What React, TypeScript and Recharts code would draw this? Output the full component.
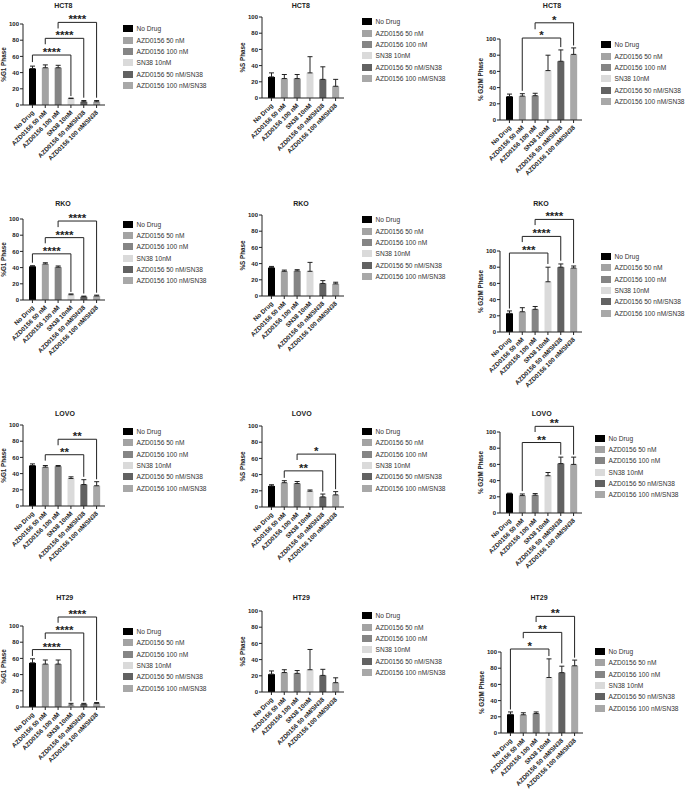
import { Bar, BarChart, Cell, ErrorBar, Label, ReferenceLine, XAxis, YAxis } from "recharts";

// treatment groups (x categories + legend)
const treatments = [
  "No Drug",
  "AZD0156 50 nM",
  "AZD0156 100 nM",
  "SN38 10nM",
  "AZD0156 50 nM/SN38",
  "AZD0156 100 nM/SN38",
];
const barColors = ["#000000", "#a3a3a3", "#858585", "#dadada", "#626262", "#a8a8a8"];
const yTicks = [0, 20, 40, 60, 80, 100];

// mean % of cells per phase, and SD (upper whisker only)
const hct8G1 = [45, 46, 46, 8, 4, 4];
const hct8G1Sd = [3, 3.5, 3, 0.5, 1.5, 1.5];
const hct8S = [26, 24, 24, 31, 23, 14.5];
const hct8SSd = [5, 5, 5, 20, 15.5, 8.5];
const hct8G2M = [29, 29.5, 30, 61, 72.5, 81];
const hct8G2MSd = [3, 3, 3, 19, 14, 8];

const rkoG1 = [41.5, 44.5, 40.5, 6.5, 4, 5];
const rkoG1Sd = [0.8, 1.5, 1.5, 1, 0.8, 1];
const rkoS = [35, 30.5, 31, 30.5, 15.5, 15];
const rkoSSd = [1.5, 1.5, 1.5, 11, 3.5, 2];
const rkoG2M = [23, 25, 28, 62, 80, 79];
const rkoG2MSd = [3, 5, 3.5, 18, 4, 2.5];

const lovoG1 = [50, 48, 49, 34, 26.5, 25];
const lovoG1Sd = [2, 2, 1, 2, 6, 5];
const lovoS = [26, 30, 29, 19.5, 12.5, 15];
const lovoSSd = [1.5, 2.5, 2.5, 1.5, 3.5, 4];
const lovoG2M = [24, 21.5, 22, 46, 61, 60];
const lovoG2MSd = [0.5, 2, 2, 4, 8, 9];

const ht29G1 = [54.5, 53, 53, 2.5, 3.5, 4.5];
const ht29G1Sd = [5, 5, 5, 2, 1, 1];
const ht29S = [22, 24, 23, 27.5, 20.5, 11.5];
const ht29SSd = [4, 3.5, 3.5, 25, 7.5, 6];
const ht29G2M = [23, 22.5, 24, 68.5, 74.5, 83];
const ht29G2MSd = [3, 2.5, 2, 23, 8, 7];

// significance brackets: [from, to, level, left leg end, right leg end, stars]
type Bracket = [number, number, number, number, number, string];

const hct8G1Brackets: Bracket[] = [
  [0, 3, 61.7, 53, 11, "****"],
  [1, 4, 82.3, 75, 9, "****"],
  [2, 5, 102, 94.5, 9, "****"],
];
const hct8G2MBrackets: Bracket[] = [
  [1, 4, 101.2, 36, 90, "*"],
  [2, 5, 120, 112, 92, "*"],
];
const rkoG1Brackets: Bracket[] = [
  [0, 3, 57, 46, 10, "****"],
  [1, 4, 77, 70, 8, "****"],
  [2, 5, 97.5, 90, 9, "****"],
];
const rkoG2MBrackets: Bracket[] = [
  [0, 3, 97.5, 29, 84, "***"],
  [1, 4, 118, 111, 88, "****"],
  [2, 5, 139, 132, 85, "****"],
];
const lovoG1Brackets: Bracket[] = [
  [1, 4, 63.3, 56, 36, "**"],
  [2, 5, 82.4, 75, 33, "**"],
];
const lovoSBrackets: Bracket[] = [
  [1, 4, 44.6, 36, 19, "**"],
  [2, 5, 65.3, 58, 22, "*"],
];
const lovoG2MBrackets: Bracket[] = [
  [1, 4, 87, 27, 72, "**"],
  [2, 5, 107, 100, 72, "**"],
];
const ht29G1Brackets: Bracket[] = [
  [0, 3, 70.9, 63, 7, "****"],
  [1, 4, 91.4, 84, 7, "****"],
  [2, 5, 111.1, 104, 8, "****"],
];
const ht29G2MBrackets: Bracket[] = [
  [0, 3, 103.7, 29, 95, "*"],
  [1, 4, 124.2, 117, 86, "**"],
  [2, 5, 144, 137, 93, "**"],
];

const panels = [
  { title: "HCT8", yLabel: "%G1 Phase", values: hct8G1, sd: hct8G1Sd, brackets: hct8G1Brackets },
  { title: "HCT8", yLabel: "%S Phase", values: hct8S, sd: hct8SSd, brackets: [] as Bracket[] },
  { title: "HCT8", yLabel: "% G2/M Phase", values: hct8G2M, sd: hct8G2MSd, brackets: hct8G2MBrackets },
  { title: "RKO", yLabel: "%G1 Phase", values: rkoG1, sd: rkoG1Sd, brackets: rkoG1Brackets },
  { title: "RKO", yLabel: "%S Phase", values: rkoS, sd: rkoSSd, brackets: [] as Bracket[] },
  { title: "RKO", yLabel: "% G2/M Phase", values: rkoG2M, sd: rkoG2MSd, brackets: rkoG2MBrackets },
  { title: "LOVO", yLabel: "%G1 Phase", values: lovoG1, sd: lovoG1Sd, brackets: lovoG1Brackets },
  { title: "LOVO", yLabel: "%S Phase", values: lovoS, sd: lovoSSd, brackets: lovoSBrackets },
  { title: "LOVO", yLabel: "% G2/M Phase", values: lovoG2M, sd: lovoG2MSd, brackets: lovoG2MBrackets },
  { title: "HT29", yLabel: "%G1 Phase", values: ht29G1, sd: ht29G1Sd, brackets: ht29G1Brackets },
  { title: "HT29", yLabel: "%S Phase", values: ht29S, sd: ht29SSd, brackets: [] as Bracket[] },
  { title: "HT29", yLabel: "% G2/M Phase", values: ht29G2M, sd: ht29G2MSd, brackets: ht29G2MBrackets },
];

// where each panel sits on the page (axis origin x, y of the 100 line, title, legend)
const panelLayouts = [
  { axisX: 22.7, top: 24, titleX: 63.3, titleY: 4.5, legendX: 123, legendY: 29 },
  { axisX: 261.7, top: 16.7, titleX: 300.8, titleY: 4.5, legendX: 362, legendY: 22 },
  { axisX: 500, top: 39.3, titleX: 552, titleY: 4.5, legendX: 601, legendY: 45 },
  { axisX: 22.7, top: 219.3, titleX: 63, titleY: 202.5, legendX: 123, legendY: 224.3 },
  { axisX: 261.7, top: 215, titleX: 301, titleY: 202.5, legendX: 362, legendY: 220 },
  { axisX: 500, top: 250.7, titleX: 541, titleY: 202.5, legendX: 601, legendY: 256.7 },
  { axisX: 22.7, top: 425, titleX: 65, titleY: 412.7, legendX: 123, legendY: 431.7 },
  { axisX: 261.7, top: 426, titleX: 301.7, titleY: 412.7, legendX: 362, legendY: 431.7 },
  { axisX: 500, top: 432.3, titleX: 541.7, titleY: 412.7, legendX: 595, legendY: 438.3 },
  { axisX: 22.7, top: 625.7, titleX: 64.7, titleY: 597.3, legendX: 123, legendY: 631.7 },
  { axisX: 261.7, top: 610.7, titleX: 301.3, titleY: 597.3, legendX: 362, legendY: 616 },
  { axisX: 501, top: 652.3, titleX: 539, titleY: 597.3, legendX: 595, legendY: 651.7 },
];

const FONT = '"Liberation Sans", Arial, sans-serif';
const INK = "#222";
const Y_AXIS_W = 24;
const PLOT_W = 82;
const PLOT_H = 81;
const MARGIN_TOP = 50;
const X_AXIS_H = 70;
const MARGIN_RIGHT = 6;

function AngledTick({ x, y, payload }: any) {
  const tx = x + 2;
  const ty = y + 3;
  return (
    <text
      x={tx}
      y={ty}
      transform={`rotate(-45, ${tx}, ${ty})`}
      textAnchor="end"
      fontSize={6.3}
      fontWeight={700}
      fontFamily={FONT}
      fill={INK}
    >
      {payload.value}
    </text>
  );
}

function renderYLabel(text: string) {
  return ({ viewBox }: any) => {
    const cx = viewBox.x + viewBox.width - 19.4;
    const cy = viewBox.y + viewBox.height / 2;
    return (
      <text
        x={cx}
        y={cy}
        transform={`rotate(-90, ${cx}, ${cy})`}
        textAnchor="middle"
        dominantBaseline="central"
        fontSize={6.3}
        fontWeight={700}
        fontFamily={FONT}
        fill={INK}
      >
        {text}
      </text>
    );
  };
}

function PhasePanel({ index }: { index: number }) {
  const panel = panels[index];
  const layout = panelLayouts[index];
  const rows = treatments.map((name, i) => ({
    name,
    value: panel.values[i],
    err: [0, panel.sd[i]],
  }));

  return (
    <>
      <div
        style={{
          position: "absolute",
          left: layout.titleX,
          top: layout.titleY,
          transform: "translate(-50%, -50%)",
          fontSize: 7,
          fontWeight: 700,
          color: INK,
          whiteSpace: "nowrap",
        }}
      >
        {panel.title}
      </div>
      <div
        style={{
          position: "absolute",
          left: layout.axisX - Y_AXIS_W,
          top: layout.top - MARGIN_TOP,
        }}
      >
        <BarChart
          width={Y_AXIS_W + PLOT_W + MARGIN_RIGHT}
          height={MARGIN_TOP + PLOT_H + X_AXIS_H}
          data={rows}
          margin={{ top: MARGIN_TOP, right: MARGIN_RIGHT, bottom: 0, left: 0 }}
        >
          <XAxis
            dataKey="name"
            interval={0}
            height={X_AXIS_H}
            tickSize={3}
            tickMargin={2}
            padding={{ left: 3, right: 2 }}
            tick={<AngledTick />}
            axisLine={{ stroke: INK }}
            tickLine={{ stroke: INK }}
          />
          <YAxis
            domain={[0, 100]}
            ticks={yTicks}
            interval={0}
            width={Y_AXIS_W}
            tickSize={3}
            tickMargin={1}
            tick={{ fontSize: 6, fontWeight: 700, fill: INK, fontFamily: FONT }}
            axisLine={{ stroke: INK }}
            tickLine={{ stroke: INK }}
          >
            <Label content={renderYLabel(panel.yLabel)} />
          </YAxis>
          <Bar dataKey="value" barSize={7} isAnimationActive={false}>
            {rows.map((row, i) => (
              <Cell key={row.name} fill={barColors[i]} />
            ))}
            <ErrorBar
              dataKey="err"
              direction="y"
              width={2.5}
              stroke={INK}
              strokeWidth={1}
              isAnimationActive={false}
            />
          </Bar>
          {panel.brackets.map(([from, to, level, leftEnd, rightEnd, stars], i) => [
            <ReferenceLine
              key={`h${i}`}
              segment={[
                { x: treatments[from], y: level },
                { x: treatments[to], y: level },
              ]}
              stroke={INK}
              strokeWidth={1}
              ifOverflow="visible"
              label={{
                value: stars,
                position: "top",
                offset: -1,
                fill: INK,
                fontSize: 11.5,
                fontWeight: 700,
                fontFamily: FONT,
              }}
            />,
            <ReferenceLine
              key={`l${i}`}
              segment={[
                { x: treatments[from], y: level },
                { x: treatments[from], y: leftEnd },
              ]}
              stroke={INK}
              strokeWidth={1}
              ifOverflow="visible"
            />,
            <ReferenceLine
              key={`r${i}`}
              segment={[
                { x: treatments[to], y: level },
                { x: treatments[to], y: rightEnd },
              ]}
              stroke={INK}
              strokeWidth={1}
              ifOverflow="visible"
            />,
          ])}
        </BarChart>
      </div>
      <div style={{ position: "absolute", left: layout.legendX, top: layout.legendY - 5.65 }}>
        {treatments.map((name, i) => (
          <div
            key={name}
            style={{ display: "flex", alignItems: "center", height: 11.3, whiteSpace: "nowrap" }}
          >
            <span
              style={{
                display: "inline-block",
                width: 9.5,
                height: 7,
                background: barColors[i],
                marginRight: 4,
              }}
            />
            <span style={{ fontSize: 6.6, color: "#333" }}>{name}</span>
          </div>
        ))}
      </div>
    </>
  );
}

export default function App() {
  return (
    <div
      style={{
        position: "absolute",
        left: 0,
        top: 0,
        width: 685,
        height: 790,
        background: "#fff",
        fontFamily: FONT,
        overflow: "hidden",
      }}
    >
      {panels.map((panel, i) => (
        <PhasePanel key={`${panel.title}-${panel.yLabel}`} index={i} />
      ))}
    </div>
  );
}
